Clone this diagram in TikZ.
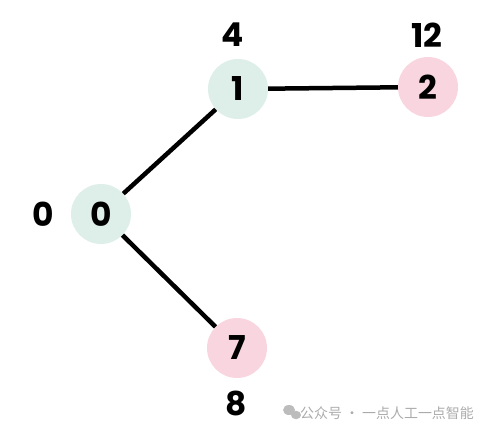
\documentclass[tikz,border=0pt]{standalone}
\usepackage{fontspec}
\setmainfont{Poppins}
\newfontfamily\cjkfont{Noto Sans CJK SC}
\definecolor{nodegreen}{HTML}{DDEFE8}
\definecolor{nodepink}{HTML}{F9D6DF}
\definecolor{markgray}{HTML}{ABABAB}
\begin{document}
\begin{tikzpicture}
[x=1bp,y=-1bp,
  nodedecorate/.style={shape=circle,inner sep=0pt,minimum size=60bp,
    font=\fontsize{33}{36}\selectfont\bfseries},%
  labeldecorate/.style={inner sep=0pt,font=\fontsize{33}{36}\selectfont\bfseries},%
  linedecorate/.style={-,line width=4.5bp}]
\useasboundingbox (0,0) rectangle (487,433);
%% nodes or vertices
\foreach \nodename/\x/\y/\col in {0/101/214/nodegreen, 1/238/89/nodegreen,
  2/428/87/nodepink, 7/237/348/nodepink} {
  \node (\nodename) at (\x,\y) [nodedecorate,fill=\col] {\nodename};
}
%% edges or lines
\begin{scope}[on background layer/.try]
\path
\foreach \startnode/\endnode in {0/1, 1/2, 0/7} {
  (\startnode) edge[linedecorate] node {} (\endnode)
};
\end{scope}
%% costs
\foreach \labelname/\x/\y/\cost in {l0/43/214/0, l1/233/35/4,
  l2/427/35/12, l7/236/403/8} {
  \node (\labelname) at (\x,\y) [labeldecorate] {\cost};
}
%% watermark
\fill[markgray!80] (289,410) ellipse (6bp and 5bp);
\fill[markgray!80] (296,415) ellipse (5bp and 4.2bp);
\node (mark) at (387,413) [inner sep=0pt,text=markgray,
  font=\cjkfont\fontsize{14}{16}\selectfont] {公众号~·~一点人工一点智能};
\end{tikzpicture}
\end{document}
